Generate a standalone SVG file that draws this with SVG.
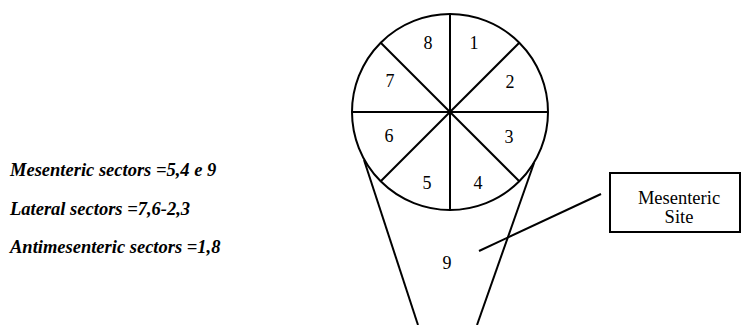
<svg xmlns="http://www.w3.org/2000/svg" width="741" height="325" viewBox="0 0 741 325">
<style>
.ln{stroke:#000;stroke-width:2;fill:none}
text{fill:#000}
.num{font-size:18px;text-anchor:middle}
.leg{font-size:18.5px;font-weight:bold;font-style:italic}
.box{font-size:18.5px;text-anchor:middle}
</style>
<rect width="741" height="325" fill="#fff"/>
<g id="legend" font-family="Liberation Serif, DejaVu Serif, serif">
<text class="leg" x="10" y="176">Mesenteric sectors =5,4 e 9</text>
<text class="leg" x="10" y="215">Lateral sectors =7,6-2,3</text>
<text class="leg" x="10" y="253">Antimesenteric sectors =1,8</text>
</g>
<g id="funnel" font-family="Liberation Serif, DejaVu Serif, serif">
<line class="ln" x1="364" y1="160" x2="418" y2="325"/>
<line class="ln" x1="534" y1="163" x2="477" y2="325"/>
<text class="num" x="447" y="269">9</text>
</g>
<g id="circle" font-family="Liberation Serif, DejaVu Serif, serif">
<circle class="ln" cx="450" cy="112" r="98" fill="#fff"/>
<line class="ln" x1="450" y1="14" x2="450" y2="210"/>
<line class="ln" x1="352" y1="112" x2="548" y2="112"/>
<line class="ln" x1="380.7" y1="42.7" x2="519.3" y2="181.3"/>
<line class="ln" x1="519.3" y1="42.7" x2="380.7" y2="181.3"/>
<text class="num" x="428" y="49">8</text>
<text class="num" x="474" y="49">1</text>
<text class="num" x="390" y="87">7</text>
<text class="num" x="510" y="88">2</text>
<text class="num" x="389" y="142">6</text>
<text class="num" x="509" y="143">3</text>
<text class="num" x="427" y="189">5</text>
<text class="num" x="478" y="189">4</text>
</g>
<g id="mesenteric-site" font-family="Liberation Serif, DejaVu Serif, serif">
<rect class="ln" x="610" y="173" width="130" height="59"/>
<text class="box" x="679" y="204">Mesenteric</text>
<text class="box" x="679" y="223">Site</text>
</g>
<g id="connectors">
<line class="ln" x1="479" y1="251" x2="601" y2="194"/>
</g>
</svg>
